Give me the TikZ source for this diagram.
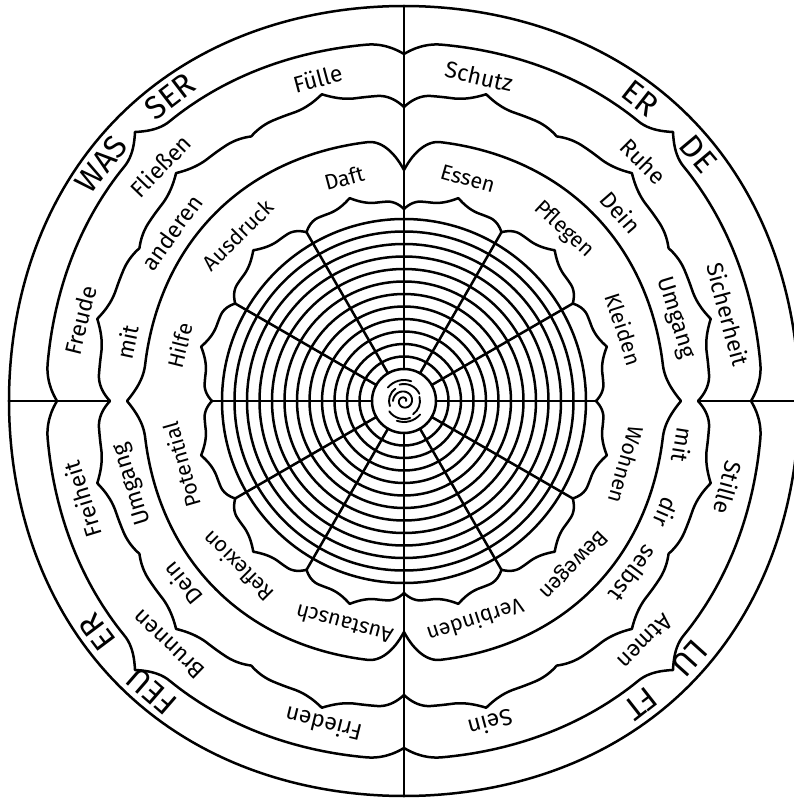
\documentclass[tikz,border=0pt]{standalone}
\usepackage{fontspec}
\setmainfont{Fira Sans}
\begin{document}
\begin{tikzpicture}[x=1pt,y=1pt,
  line width=2.5pt, line join=round, line cap=round,
  declare function={
    K(\x,\y)=max(0,1-abs(\x)/\y)^2;
    dn(\x)=\x-90*round(\x/90);
    dj(\x)=\x-30*round(\x/30);
    dm(\x)=\x-15-30*round((\x-15)/30);
    sq(\x)=1+0.02*sin(2*\x)^2;
    rO(\x)=395*sq(\x);
    rB(\x)=sq(\x)*(358-11*K(dn(\x),6)+15*K(dn(\x-45),5));
    rC(\x)=sq(\x)*(306+10*K(dm(\x),6)-5*K(dj(\x),5)-7*K(dn(\x),5));
    rD(\x)=sq(\x)*(261+K(dn(\x),8)*(16*cos(\x)^2-30*sin(\x)^2));
    rE(\x)=sq(\x)*(200+9*K(dm(\x),7)-8*K(dj(\x),5));
  },
  b1/.style={font=\fontsize{32}{32}\selectfont},
  b2/.style={font=\fontsize{23}{23}\selectfont},
  b3/.style={font=\fontsize{23}{23}\selectfont},
  b4/.style={font=\fontsize{21.5}{21.5}\selectfont}]
\useasboundingbox (-404,-400) rectangle (390,401);
\newcommand\wrd[5]{\node[#1,rotate=#3-90,inner sep=0pt] (#2) at (#3:{#4*sq(#3)}) {#5};}
% rings and boundaries
\draw plot[domain=0:360,samples=361,variable=\x] (\x:{rO(\x)});
\draw plot[domain=0:360,samples=721,variable=\x] (\x:{rB(\x)});
\draw plot[domain=0:360,samples=721,variable=\x] (\x:{rC(\x)});
\draw plot[domain=0:360,samples=721,variable=\x] (\x:{rD(\x)});
\draw plot[domain=0:360,samples=721,variable=\x] (\x:{rE(\x)});
% web rings
\foreach \k in {0,...,12} \draw (0,0) circle ({32+12.5*\k});
% spokes
\foreach \a in {30,60,120,150,210,240,300,330}
  \draw (\a:32) -- (\a:{rE(\a)});
\draw (0:32) -- (0:{rE(0)});
\draw (180:32) -- (180:{rE(180)});
\draw (90:32) -- (90:{rO(90)});
\draw (270:32) -- (270:{rO(270)});
\draw (0:{rC(0)}) -- (0:{rO(0)});
\draw (180:{rC(180)}) -- (180:{rO(180)});
% rose
\begin{scope}[line width=1.9pt]
\draw plot[domain=0:540,samples=80,variable=\x] (\x:{2+\x/60});
\draw (25:17) arc (25:105:17);
\draw (125:15) arc (125:200:15);
\draw (215:18) arc (215:290:18);
\draw (305:16) arc (305:375:16);
\draw (70:21) arc (70:140:21);
\draw (250:21) arc (250:320:21);
\end{scope}
% band 1
\wrd{b1}{was}{142}{377}{WAS}
\wrd{b1}{ser}{127.5}{377}{SER}
\wrd{b1}{er1}{52}{377}{ER}
\wrd{b1}{de}{40}{377}{DE}
\wrd{b1}{lu}{318}{377}{LU}
\wrd{b1}{ft}{308}{377}{FT}
\wrd{b1}{feu}{229}{377}{FEU}
\wrd{b1}{er2}{217}{377}{ER}
% band 2
\wrd{b2}{fuelle}{105}{332}{Fülle}
\wrd{b2}{fliessen}{136}{332}{Fließen}
\wrd{b2}{freude}{166}{332}{Freude}
\wrd{b2}{schutz}{77}{332}{Schutz}
\wrd{b2}{ruhe}{45}{332}{Ruhe}
\wrd{b2}{sicher}{15}{334}{Sicherheit}
\wrd{b2}{stille}{345}{334}{Stille}
\wrd{b2}{atmen}{315}{334}{Atmen}
\wrd{b2}{sein}{285}{332}{Sein}
\wrd{b2}{frieden}{256}{332}{Frieden}
\wrd{b2}{brennen}{226}{332}{Brunnen}
\wrd{b2}{freiheit}{197}{334}{Freiheit}
% band 3
\wrd{b3}{mit1}{168}{282}{mit}
\wrd{b3}{anderen}{144}{282}{anderen}
\wrd{b3}{dein1}{41}{282}{Dein}
\wrd{b3}{umgang1}{17}{282}{Umgang}
\wrd{b3}{mit2}{351}{282}{mit}
\wrd{b3}{dir}{337}{282}{dir}
\wrd{b3}{selbst}{323}{282}{selbst}
\wrd{b3}{dein2}{219.5}{282}{Dein}
\wrd{b3}{umgang2}{197}{282}{Umgang}
% band 4
\wrd{b4}{daft}{105}{230}{Daft}
\wrd{b4}{ausdruck}{135}{230}{Ausdruck}
\wrd{b4}{hilfe}{166}{230}{Hilfe}
\wrd{b4}{essen}{74}{230}{Essen}
\wrd{b4}{pflegen}{47}{230}{Pflegen}
\wrd{b4}{kleiden}{18}{230}{Kleiden}
\wrd{b4}{wohnen}{344}{230}{Wohnen}
\wrd{b4}{bewegen}{316}{230}{Bewegen}
\wrd{b4}{verbinden}{288}{230}{Verbinden}
\wrd{b4}{austausch}{255}{230}{Austausch}
\wrd{b4}{reflexion}{225}{230}{Reflexion}
\wrd{b4}{potential}{196}{230}{Potential}
\end{tikzpicture}
\end{document}
